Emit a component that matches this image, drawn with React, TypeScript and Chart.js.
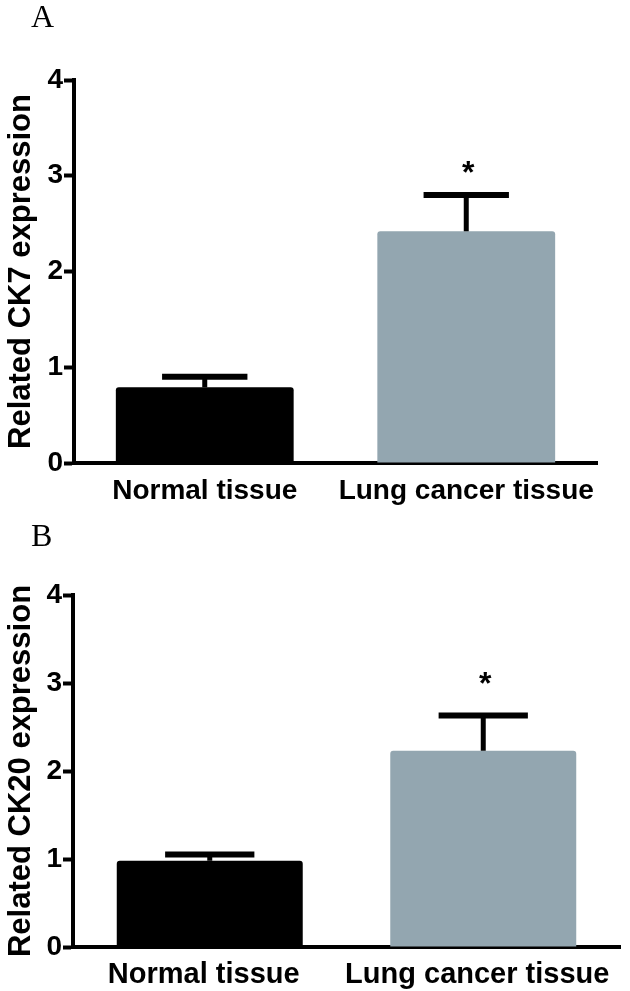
import React, { useEffect, useRef } from "react";
import { Chart, registerables } from "chart.js";

Chart.register(...registerables);

// ---- Data ----
const categories = ["Normal tissue", "Lung cancer tissue"];
const ck7Mean = [0.79, 2.42];
const ck7Sem = [0.11, 0.38];
const ck20Mean = [0.98, 2.23];
const ck20Sem = [0.07, 0.4];
const significance = ["", "*"];
const yTickValues = [0, 1, 2, 3, 4];
const barColors = ["#000000", "#93A6B0"];

const FONT = "'Liberation Sans', Arial, sans-serif";

const errorBarPlugin = {
  id: "errorBars",
  afterDatasetsDraw(chart: any, _args: any, opts: any) {
    const { ctx } = chart;
    const meta = chart.getDatasetMeta(0);
    const yScale = chart.scales.y;
    const values = chart.data.datasets[0].data as number[];
    meta.data.forEach((bar: any, i: number) => {
      const v = values[i];
      const e = opts.errors[i];
      const base = yScale.getPixelForValue(v);
      const top = yScale.getPixelForValue(v + e);
      const half = bar.width * 0.24;
      ctx.save();
      ctx.strokeStyle = "#000";
      ctx.lineCap = "butt";
      ctx.lineWidth = 5;
      ctx.beginPath();
      ctx.moveTo(bar.x, base);
      ctx.lineTo(bar.x, top);
      ctx.stroke();
      ctx.lineWidth = 6;
      ctx.beginPath();
      ctx.moveTo(bar.x - half, top);
      ctx.lineTo(bar.x + half, top);
      ctx.stroke();
      const mark = opts.marks[i];
      if (mark) {
        ctx.font = `bold ${opts.markSize}px ${FONT}`;
        ctx.fillStyle = "#000";
        ctx.textAlign = "center";
        ctx.textBaseline = "alphabetic";
        const m = ctx.measureText(mark);
        const yc = top - opts.markOffset;
        const baseline = yc + (m.actualBoundingBoxAscent - m.actualBoundingBoxDescent) / 2;
        ctx.fillText(mark, bar.x + 2, baseline);
      }
      ctx.restore();
    });
  },
};

function makeConfig(p: PanelProps): any {
  return {
    type: "bar",
    data: {
      labels: categories,
      datasets: [
        {
          data: p.means,
          backgroundColor: barColors,
          borderWidth: 0,
          borderRadius: 3,
          barPercentage: 0.68,
          categoryPercentage: 1,
        },
      ],
    },
    options: {
      responsive: false,
      animation: false,
      devicePixelRatio: 1,
      layout: { padding: { left: 0, right: p.padRight, top: p.padTop, bottom: 0 } },
      plugins: {
        legend: { display: false },
        tooltip: { enabled: false },
        errorBars: { errors: p.sems, marks: significance, markSize: 32, markOffset: p.markOffset },
      },
      scales: {
        x: {
          grid: { display: true, drawOnChartArea: false, drawTicks: false },
          border: { display: true, color: "#000", width: 4 },
          ticks: {
            color: "#000",
            font: { family: FONT, size: p.xFont, weight: "bold" },
            padding: 11,
            labelOffset: p.xLabelOffset,
            maxRotation: 0,
            minRotation: 0,
            autoSkip: false,
          },
          afterFit: (s: any) => {
            s.height = p.xHeight;
          },
        },
        y: {
          min: 0,
          max: 4,
          afterBuildTicks: (s: any) => {
            s.ticks = yTickValues.map((v) => ({ value: v }));
          },
          grid: {
            display: true,
            drawOnChartArea: false,
            drawTicks: true,
            tickLength: 10,
            tickWidth: 4,
            color: "#000",
          },
          border: { display: true, color: "#000", width: 4 },
          ticks: {
            color: "#000",
            font: { family: FONT, size: 28, weight: "bold" },
            padding: 1,
          },
          title: {
            display: true,
            text: p.title,
            color: "#000",
            font: { family: FONT, size: 31, weight: "bold" },
            padding: { top: 3, bottom: 0 },
          },
          afterFit: (s: any) => {
            s.width = p.yWidth;
          },
        },
      },
    },
    plugins: [errorBarPlugin],
  };
}

type PanelProps = {
  top: number;
  height: number;
  means: number[];
  sems: number[];
  title: string;
  padRight: number;
  padTop: number;
  yWidth: number;
  xHeight: number;
  xFont: number;
  xLabelOffset: number;
  markOffset: number;
};

function BarPanel(props: PanelProps) {
  const ref = useRef<HTMLCanvasElement | null>(null);
  useEffect(() => {
    if (!ref.current) return;
    const chart = new Chart(ref.current, makeConfig(props));
    return () => chart.destroy();
  }, []);
  return (
    <canvas
      ref={ref}
      width={630}
      height={props.height}
      style={{ position: "absolute", left: 0, top: props.top, width: 630, height: props.height }}
    />
  );
}

const panelLabelStyle: React.CSSProperties = {
  position: "absolute",
  fontFamily: "'Liberation Serif', 'Times New Roman', serif",
  fontSize: 32,
  lineHeight: "32px",
  color: "#000",
};

export default function App() {
  return (
    <div
      style={{
        position: "absolute",
        left: 0,
        top: 0,
        width: 630,
        height: 991,
        background: "#fff",
        overflow: "hidden",
      }}
    >
      <BarPanel
        top={0}
        height={520}
        means={ck7Mean}
        sems={ck7Sem}
        title="Related CK7 expression"
        padRight={33}
        padTop={80}
        yWidth={74}
        xHeight={57}
        xFont={28}
        xLabelOffset={0}
        markOffset={28}
      />
      <BarPanel
        top={520}
        height={471}
        means={ck20Mean}
        sems={ck20Sem}
        title="Related CK20 expression"
        padRight={10}
        padTop={75}
        yWidth={73}
        xHeight={44}
        xFont={29}
        xLabelOffset={-6}
        markOffset={38}
      />
      <div style={{ ...panelLabelStyle, left: 31, top: 0 }}>A</div>
      <div style={{ ...panelLabelStyle, left: 31, top: 519 }}>B</div>
    </div>
  );
}
